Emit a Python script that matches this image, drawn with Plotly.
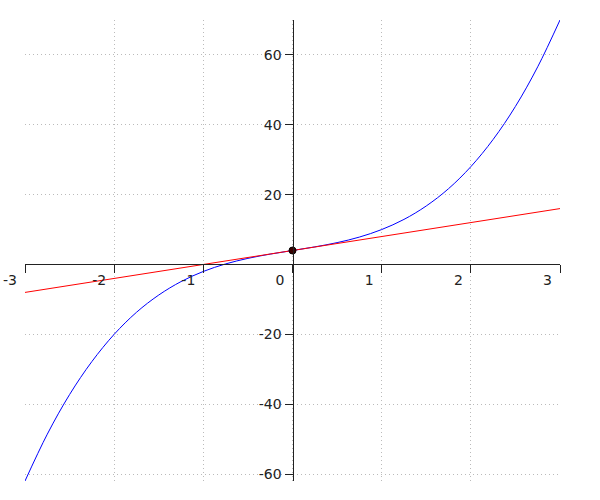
import plotly.graph_objects as go

# Curve samples
curve_x = [-3, -2.75, -2.5, -2.25, -2, -1.75, -1.5, -1.25, -1, -0.75, -0.5, -0.25,
           0, 0.25, 0.5, 0.75, 1, 1.25, 1.5, 1.75, 2, 2.25, 2.5, 2.75, 3]
curve_y = [-62, -48.6, -37.25, -27.8, -20, -13.7, -8.75, -4.9, -2, 0.16, 1.75, 2.97,
           4, 5.03, 6.25, 7.84, 10, 12.9, 16.75, 21.7, 28, 35.8, 45.25, 56.6, 70]

tangent_x = [-3, 3]
tangent_y = [-8, 16]

point_x = [0]
point_y = [4]

x_ticks = [-3, -2, -1, 0, 1, 2, 3]
y_ticks = [-60, -40, -20, 20, 40, 60]

x_range = [-3, 3]
y_range = [-62, 70]

fig = go.Figure()
fig.add_trace(go.Scatter(x=curve_x, y=curve_y, mode="lines",
                         line=dict(color="#0000ff", width=1, shape="spline"),
                         hoverinfo="skip"))
fig.add_trace(go.Scatter(x=tangent_x, y=tangent_y, mode="lines",
                         line=dict(color="#ff0000", width=1), hoverinfo="skip"))
fig.add_trace(go.Scatter(x=point_x, y=point_y, mode="markers",
                         marker=dict(color="#3a0000", size=7,
                                     line=dict(color="#000000", width=1)),
                         cliponaxis=False, hoverinfo="skip"))

font = dict(family="DejaVu Sans", size=14, color="#222222")
grid = dict(showgrid=True, gridcolor="#bbbbbb", gridwidth=1, griddash="1px,3px")

y_zero_frac = (0 - y_range[0]) / (y_range[1] - y_range[0])
x_zero_frac = (0 - x_range[0]) / (x_range[1] - x_range[0])

fig.update_layout(
    width=600, height=500,
    margin=dict(l=25, r=40, t=20, b=19),
    paper_bgcolor="white", plot_bgcolor="white",
    showlegend=False,
    xaxis=dict(range=x_range, tickvals=x_ticks, ticktext=[str(v) for v in x_ticks],
               zeroline=False, showline=True, linecolor="#222222", linewidth=1,
               ticks="outside", ticklen=8, tickcolor="#222222", tickwidth=1,
               anchor="free", position=y_zero_frac, side="bottom", automargin=False,
               ticklabelposition="outside left", ticklabelshift=-7,
               ticklabelstandoff=3,
               tickfont=font, **grid),
    yaxis=dict(range=y_range, tickvals=y_ticks, ticktext=[str(v) for v in y_ticks],
               zeroline=False, showline=True, linecolor="#222222", linewidth=1,
               ticks="outside", ticklen=8, tickcolor="#222222", tickwidth=1,
               anchor="free", position=x_zero_frac, side="left", automargin=False,
               tickfont=font, **grid),
)

fig.write_html("out.html")
